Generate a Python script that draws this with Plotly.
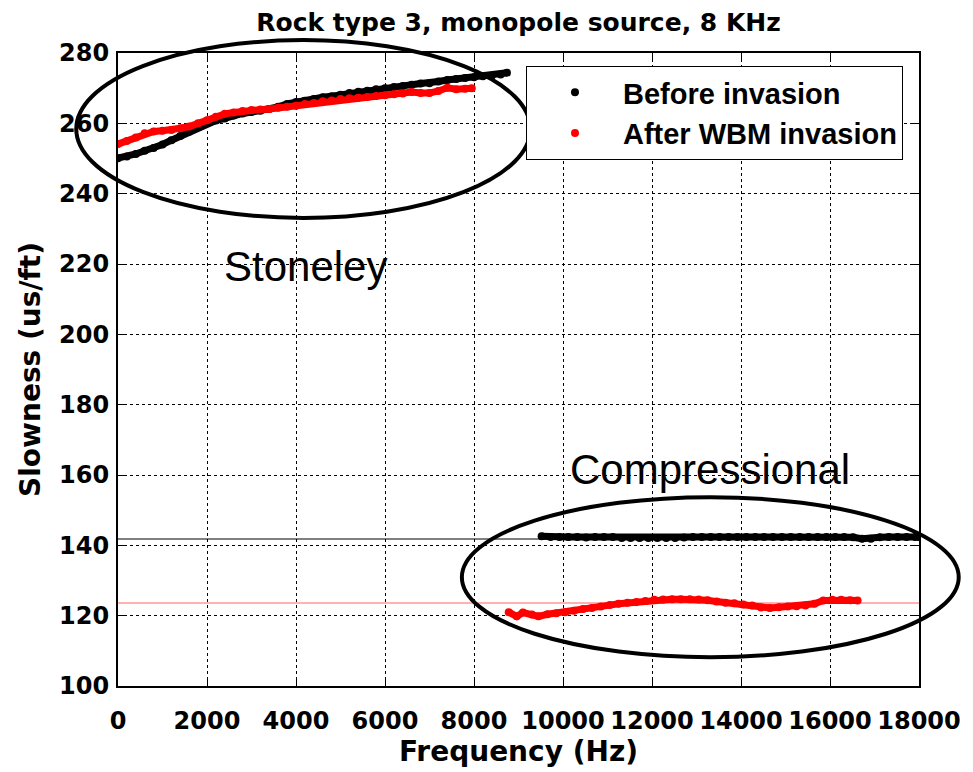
import plotly.graph_objects as go

# Stoneley mode, before invasion
st_before_f = [0, 200, 400, 600, 800, 1000, 1200, 1400, 1600, 1800, 2000, 2200, 2400,
               2600, 2800, 3000, 3200, 3400, 3600, 3800, 4000, 4200, 4400, 4600, 4800,
               5000, 5200, 5400, 5600, 5800, 6000, 6200, 6400, 6600, 6800, 7000, 7200,
               7400, 7600, 7800, 8000, 8200, 8400, 8600, 8740]
st_before_s = [250.1, 250.6, 251.3, 252.2, 253.0, 254.0, 255.2, 256.4, 257.6, 258.9, 260.0,
               260.8, 261.4, 262.2, 262.8, 263.2, 263.6, 264.1, 264.7, 265.5, 266.1, 266.4,
               266.9, 267.4, 267.7, 268.1, 268.6, 269.0, 269.3, 269.7, 270.0, 270.3, 270.6,
               271.0, 271.3, 271.4, 271.9, 272.3, 272.6, 272.9, 273.1, 273.4, 273.5, 273.9,
               274.4]

# Stoneley mode, after WBM invasion
st_after_f = [0, 200, 400, 600, 800, 1000, 1200, 1400, 1600, 1800, 2000, 2200, 2400, 2600,
              2800, 3000, 3200, 3400, 3600, 3800, 4000, 4200, 4400, 4600, 4800, 5000, 5200,
              5400, 5600, 5800, 6000, 6200, 6400, 6600, 6800, 7000, 7200, 7400, 7600, 7800,
              7950]
st_after_s = [254.1, 255.0, 256.0, 257.2, 257.7, 257.9, 258.1, 258.6, 259.1, 260.0, 260.9,
              261.9, 262.7, 263.1, 263.5, 263.8, 263.9, 264.1, 264.4, 264.7, 265.0, 265.5,
              265.8, 266.3, 266.5, 266.9, 267.1, 267.3, 267.5, 267.8, 268.0, 268.3, 268.5,
              268.9, 268.6, 268.6, 269.2, 270.1, 269.7, 269.8, 270.0]

# Compressional mode, before invasion
cp_before_f = [9520, 9720, 9920, 10120, 10320, 10520, 10720, 10920, 11120, 11320, 11520,
               11720, 11920, 12120, 12320, 12520, 12720, 12920, 13120, 13320, 13520, 13720,
               13920, 14120, 14320, 14520, 14720, 14920, 15120, 15320, 15520, 15720, 15920,
               16120, 16320, 16520, 16720, 16920, 17120, 17320, 17520, 17720, 17920, 18000]
cp_before_s = [142.6, 142.4, 142.4, 142.4, 142.4, 142.2, 142.4, 142.4, 142.4, 142.1, 142.1,
               142.1, 142.1, 142.1, 142.1, 142.1, 142.2, 142.4, 142.4, 142.4, 142.4, 142.4,
               142.4, 142.4, 142.4, 142.4, 142.4, 142.4, 142.4, 142.4, 142.4, 142.4, 142.4,
               142.4, 142.4, 142.3, 141.9, 141.9, 142.3, 142.4, 142.4, 142.4, 142.4, 142.4]

# Compressional mode, after WBM invasion
cp_after_f = [8780, 8960, 9100, 9300, 9450, 9650, 9850, 10050, 10250, 10450, 10650, 10850,
              11050, 11250, 11450, 11650, 11850, 12050, 12250, 12450, 12650, 12850, 13050,
              13250, 13450, 13650, 13850, 14050, 14250, 14450, 14650, 14850, 15050, 15250,
              15450, 15650, 15850, 16050, 16250, 16450, 16620]
cp_after_s = [121.0, 119.8, 120.9, 120.3, 119.8, 120.4, 120.7, 121.0, 121.4, 121.9, 122.2,
              122.6, 123.0, 123.4, 123.7, 123.9, 124.2, 124.5, 124.6, 124.7, 124.7, 124.7,
              124.6, 124.4, 124.0, 123.7, 123.5, 123.2, 122.9, 122.3, 122.2, 122.4, 122.6,
              122.7, 122.9, 123.4, 124.3, 124.5, 124.5, 124.4, 124.3]

# Reference formation slowness levels
ref_before = 141.8
ref_after = 123.6

x_range = [0, 18000]
y_range = [100, 280]
x_ticks = [0, 2000, 4000, 6000, 8000, 10000, 12000, 14000, 16000, 18000]
y_ticks = [100, 120, 140, 160, 180, 200, 220, 240, 260, 280]

BOLD = "DejaVu Sans"
ARIAL = "Liberation Sans"

fig = go.Figure()

# thin reference lines across the full frequency span
fig.add_trace(go.Scatter(x=x_range, y=[ref_before, ref_before], mode="lines",
                         line=dict(color="black", width=1), showlegend=False,
                         hoverinfo="skip"))
fig.add_trace(go.Scatter(x=x_range, y=[ref_after, ref_after], mode="lines",
                         line=dict(color="rgb(255,100,100)", width=1), showlegend=False,
                         hoverinfo="skip"))

mk = 8
lw = 7


def add_series(name, color, segments):
    # dense dot series: a thick stroke through the samples plus the dots themselves
    for fx, fy in segments:
        fig.add_trace(go.Scatter(x=fx, y=fy, mode="lines", showlegend=False,
                                 line=dict(color=color, width=lw), hoverinfo="skip"))
    all_x = [v for fx, _ in segments for v in fx]
    all_y = [v for _, fy in segments for v in fy]
    fig.add_trace(go.Scatter(x=all_x, y=all_y, mode="markers", name=name,
                             marker=dict(color=color, size=mk, line=dict(width=0))))


add_series("Before invasion", "black",
           [(st_before_f, st_before_s), (cp_before_f, cp_before_s)])
add_series("After WBM invasion", "red",
           [(st_after_f, st_after_s), (cp_after_f, cp_after_s)])

# ellipses around the two wave modes
fig.add_shape(type="circle", xref="paper", yref="paper",
              x0=-0.0521, x1=0.5149, y0=0.7394, y1=1.0204,
              line=dict(color="black", width=4))
fig.add_shape(type="circle", xref="paper", yref="paper",
              x0=0.4293, x1=1.0496, y0=0.0455, y1=0.2983,
              line=dict(color="black", width=4))

fig.add_annotation(text="Stoneley", xref="paper", yref="paper", x=0.2345, y=0.6625,
                   showarrow=False, font=dict(family=ARIAL, size=42, color="black"),
                   xanchor="center", yanchor="middle")
fig.add_annotation(text="Compressional", xref="paper", yref="paper", x=0.7389, y=0.3422,
                   showarrow=False, font=dict(family=ARIAL, size=42, color="black"),
                   xanchor="center", yanchor="middle")

axis_common = dict(
    showline=True, linecolor="black", linewidth=2, mirror="ticks",
    ticks="inside", ticklen=7, tickcolor="black", tickwidth=1,
    showgrid=True, gridcolor="black", gridwidth=1, griddash="3px,3px",
    zeroline=False,
    tickfont=dict(family=BOLD, size=24, color="black", weight="bold"),
)

fig.update_xaxes(range=x_range, tickvals=x_ticks, ticktext=[str(v) for v in x_ticks],
                 ticklabelstandoff=12,
                 title=dict(text="Frequency (Hz)", standoff=6,
                            font=dict(family=BOLD, size=28, color="black", weight="bold")),
                 **axis_common)
fig.update_yaxes(range=y_range, tickvals=y_ticks, ticktext=[str(v) for v in y_ticks],
                 ticklabelstandoff=2,
                 title=dict(text="Slowness (us/ft)", standoff=10,
                            font=dict(family=BOLD, size=28, color="black", weight="bold")),
                 **axis_common)

fig.update_layout(
    width=973, height=772,
    margin=dict(l=118, r=49, t=53, b=82, pad=0),
    paper_bgcolor="white", plot_bgcolor="white",
    title=dict(text="Rock type 3, monopole source, 8 KHz", x=0.5, xref="paper",
               xanchor="center", y=1 - 22 / 772, yref="container", yanchor="middle",
               font=dict(family=BOLD, size=25, color="black", weight="bold")),
    legend=dict(x=0.980, y=0.9796, xanchor="right", yanchor="top",
                bgcolor="white", bordercolor="black", borderwidth=1,
                itemwidth=86,
                font=dict(family=ARIAL, size=29, color="black", weight="bold")),
    showlegend=True,
)

fig.write_html("out.html")
